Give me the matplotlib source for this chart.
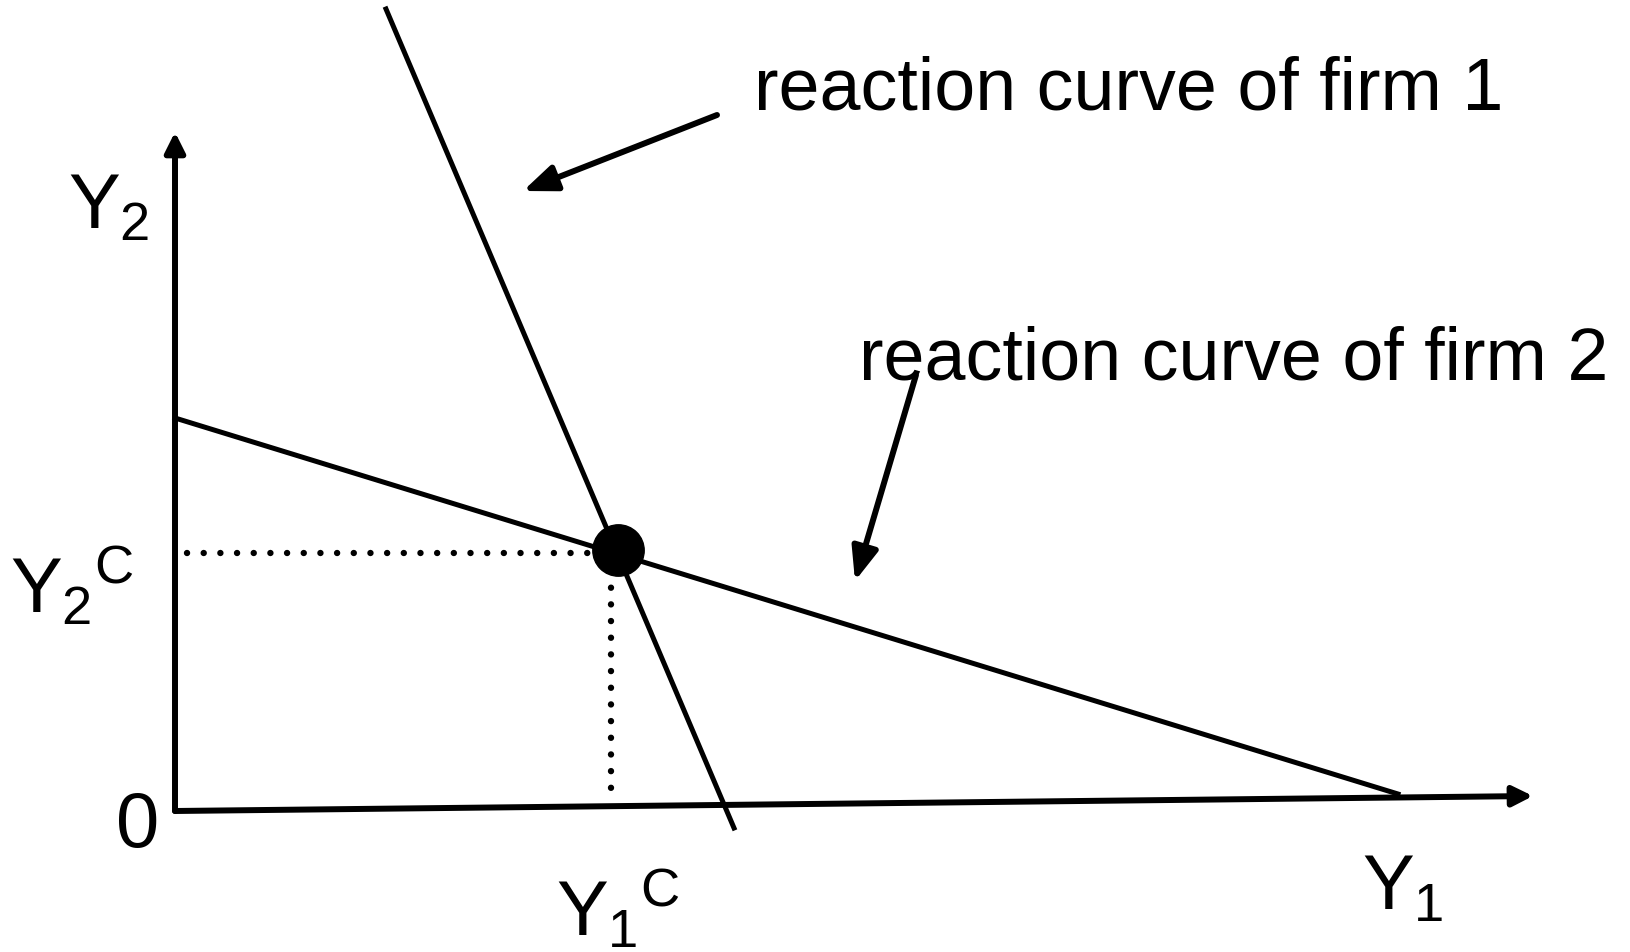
import matplotlib.pyplot as plt

plt.rcParams['font.family'] = 'Liberation Sans'
plt.rcParams['mathtext.fontset'] = 'custom'
plt.rcParams['mathtext.rm'] = 'Liberation Sans'
plt.rcParams['mathtext.it'] = 'Liberation Sans'

# axes of the diagram (origin at the corner)
y1_axis_x = [0, 1358]
y1_axis_y = [0, 15]
y2_axis_x = [0, 0]
y2_axis_y = [0, 679]

# reaction curves
firm1_x = [211, 559]
firm1_y = [802, -17]
firm2_x = [0, 1223]
firm2_y = [393, 17]

# Cournot equilibrium
y1_c = 436
y2_c = 258
eq_x = 443
eq_y = 261

labels = ['reaction curve of firm 1', 'reaction curve of firm 2']


fig = plt.figure(figsize=(16.3, 9.53), dpi=100)
ax = fig.add_axes([0, 0, 1, 1])
ax.set_xlim(-175, 1455)
ax.set_ylim(-141, 812)
ax.axis('off')

arrow_axis = dict(arrowstyle='-|>,head_length=0.4,head_width=0.2', lw=4.3,
                  color='black', mutation_scale=30, shrinkA=0, shrinkB=0)
ax.annotate('', xy=(y1_axis_x[1], y1_axis_y[1]), xytext=(y1_axis_x[0], y1_axis_y[0]),
            arrowprops=arrow_axis)
ax.annotate('', xy=(y2_axis_x[1], y2_axis_y[1]), xytext=(y2_axis_x[0], y2_axis_y[0]),
            arrowprops=arrow_axis)

ax.plot(firm1_x, firm1_y, color='black', lw=3.6)
ax.plot(firm2_x, firm2_y, color='black', lw=3.6)

# dotted guides
ax.plot([12, y1_c - 13], [y2_c, y2_c], color='black', lw=4.6,
        linestyle=(0, (0.01, 2.6)), dash_capstyle='round')
ax.plot([y1_c, y1_c], [y2_c - 18, 12], color='black', lw=4.6,
        linestyle=(0, (0.01, 2.6)), dash_capstyle='round')

ax.plot(eq_x, eq_y, 'o', color='black', markersize=37)

arrow_lbl = dict(arrowstyle='-|>,head_length=0.5,head_width=0.2', lw=4.3,
                 color='black', mutation_scale=40, shrinkA=0, shrinkB=0)
ax.annotate('', xy=(348, 620), xytext=(542, 696), arrowprops=arrow_lbl)
ax.annotate('', xy=(680, 230), xytext=(741, 436), arrowprops=arrow_lbl)

ax.text(579, 703, labels[0], fontsize=53, ha='left', va='baseline')
ax.text(684, 433, labels[1], fontsize=53, ha='left', va='baseline')

ax.text(-107, 583, r'$Y_2$', fontsize=56, ha='left', va='baseline')
ax.text(-165, 199, r'$Y_2{}^C$', fontsize=56, ha='left', va='baseline')
ax.text(-59, -35, '0', fontsize=56, ha='left', va='baseline')
ax.text(381, -124, r'$Y_1{}^C$', fontsize=56, ha='left', va='baseline')
ax.text(1187, -98, r'$Y_1$', fontsize=56, ha='left', va='baseline')

fig.savefig('out.png', dpi=100)
